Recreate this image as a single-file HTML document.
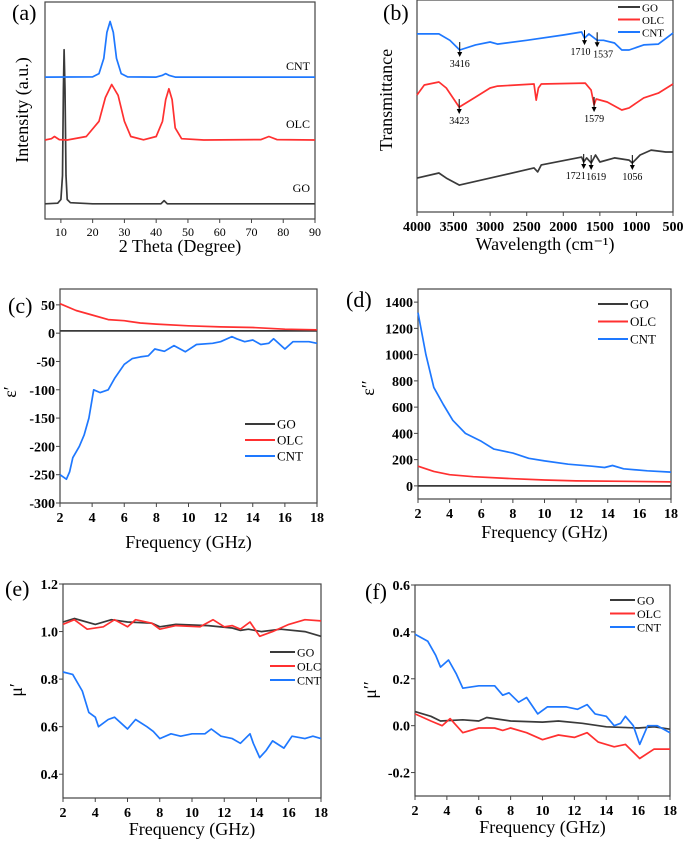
<!DOCTYPE html>
<html><head><meta charset="utf-8"><style>
body{margin:0;background:#fff;width:685px;height:843px;overflow:hidden}
svg{display:block;font-family:"Liberation Serif",serif}
.b{font-weight:bold}
</style></head><body>
<svg id="fig" width="685" height="843" viewBox="0 0 685 843"></svg>
<script>
// ---------- data ----------
const xrdGOx=[5,9,10,10.5,10.8,11,11.3,11.6,12,13,20,41.5,42.5,43.5,90];
const xrdGOy=[7,7.3,9,20,60,78,60,20,9,7.5,7,7,8.5,7,7];
const xrdOLCx=[5,7,8,9.5,12,18,22,24,26,28,30,32,36,40,42,43,44,45,46,48,55,73,75.5,78,90];
const xrdOLCy=[36.4,37,38,36.6,36.4,38,45,56,62,57,45,38,36.5,38,45,55,60,55,42,37,36.4,36.6,38,36.6,36.4];
const xrdCNTx=[5,20,22,23.5,24.5,25.5,26.5,27.5,29,31,40,42,43,44,46,90];
const xrdCNTy=[65.4,65.5,67,74,86,91,86,74,67,65.5,65.4,66.2,67,66.2,65.4,65.4];
const ftirCNTx=[4000,3700,3550,3416,3200,3000,2900,2500,2000,1750,1710,1650,1537,1450,1300,1200,1100,900,700,500];
const ftirCNTy=[84,84,81,76.4,78.8,80.2,79.2,81,83.5,84.9,82,84,81,81,79.7,76.4,76.4,78.8,79.2,84.4];
const ftirOLCx=[4000,3900,3700,3600,3423,3200,3000,2900,2400,2370,2340,2300,1700,1620,1579,1550,1400,1200,1100,900,700,500];
const ftirOLCy=[55.2,59.9,61.3,58.5,49.5,54.2,58.5,59.4,60.4,52.8,58.5,60.4,60.8,57.5,50.5,53.3,51.9,48.1,49.1,53.8,56.1,60.4];
const ftirGOx=[4000,3700,3600,3420,3000,2400,2350,2300,1750,1721,1680,1619,1560,1500,1300,1100,1056,950,800,600,500];
const ftirGOy=[16,18.4,16,12.7,16,20.8,18.9,22.2,25.9,23.6,25.5,23.1,26.9,23.6,25.5,24.5,23.1,26.9,29.2,28.3,28.3];
const ftirPeaks=[["3416",3416,76.4,0],["1710",1710,82,-4],["1537",1537,81,6],["3423",3423,49.5,0],["1579",1579,50.5,0],["1721",1721,23.6,-8],["1619",1619,23.1,5],["1056",1056,23.1,0]];
const epsRx_CNT=[2,2.4,2.6,2.8,3.2,3.5,3.8,4.1,4.5,5,5.4,6,6.5,7,7.5,7.9,8.5,9.1,9.8,10.5,11.5,12,12.7,13,13.5,14,14.5,15,15.3,16,16.5,17.5,18];
const epsR_CNT=[-250,-258,-245,-220,-200,-180,-150,-100,-105,-100,-80,-55,-45,-42,-40,-28,-32,-22,-33,-20,-18,-15,-6,-10,-15,-12,-20,-18,-10,-28,-15,-15,-18];
const epsRx_OLC=[2,3,4,5,6,7,8,10,12,14,16,18];
const epsR_OLC=[52,40,32,24,22,18,16,13,11,10,7,6];
const epsRx_GO=[2,18];
const epsR_GO=[4,4];
const epsIx_CNT=[2,2.5,3,3.6,4.2,5,6,6.8,8,9,10,11.5,13,13.8,14.3,15,16.5,18];
const epsI_CNT=[1320,1000,750,620,500,400,340,280,250,210,190,165,150,140,155,130,115,105];
const epsIx_OLC=[2,3,4,5.5,8,10,12,15,18];
const epsI_OLC=[150,110,85,70,55,45,38,35,30];
const epsIx_GO=[2,18];
const epsI_GO=[0,0];
const muRx_GO=[2,2.7,4,5,6,7.5,8,9,11,12.5,13,13.5,14.3,15.5,17,18];
const muR_GO=[1.04,1.055,1.03,1.05,1.04,1.035,1.02,1.03,1.025,1.015,1.005,1.01,1.0,1.01,1.0,0.98];
const muRx_OLC=[2,2.7,3.5,4.5,5.2,6,6.5,7.5,8,9,10.5,11.3,12,12.5,13,13.6,14.2,15,16,17,18];
const muR_OLC=[1.03,1.05,1.01,1.02,1.05,1.02,1.05,1.035,1.01,1.025,1.02,1.05,1.02,1.025,1.01,1.04,0.98,1.0,1.03,1.05,1.045];
const muRx_CNT=[2,2.6,3.2,3.6,4,4.2,4.8,5.2,6,6.5,7.2,7.6,8,8.7,9.3,10,10.8,11.2,11.8,12.5,13,13.6,13.8,14.2,14.6,15,15.7,16.2,17,17.5,18];
const muR_CNT=[0.83,0.82,0.75,0.66,0.64,0.6,0.63,0.64,0.59,0.63,0.6,0.58,0.55,0.57,0.56,0.57,0.57,0.59,0.56,0.55,0.53,0.57,0.53,0.47,0.5,0.54,0.51,0.56,0.55,0.56,0.55];
const muIx_CNT=[2,2.8,3.3,3.6,4.1,4.6,5,6,7,7.5,7.9,8.5,9,9.7,10.3,11.5,12.2,12.8,13.3,14,14.5,14.9,15.2,15.7,16.1,16.6,17.2,18];
const muI_CNT=[0.39,0.36,0.3,0.25,0.28,0.22,0.16,0.17,0.17,0.13,0.14,0.1,0.12,0.05,0.08,0.08,0.07,0.09,0.05,0.04,0.0,0.01,0.04,0.0,-0.08,0.0,0.0,-0.03];
const muIx_GO=[2,3,3.6,5,6,6.5,8,10,11,12.5,14,16,17,18];
const muI_GO=[0.06,0.04,0.02,0.025,0.02,0.035,0.02,0.015,0.02,0.01,-0.005,-0.01,-0.005,-0.015];
const muIx_OLC=[2,3,3.7,4.2,5,6,7,7.5,8,9,10,11,12,12.8,13.5,14.5,15.2,16.1,17,18];
const muI_OLC=[0.05,0.02,0.0,0.03,-0.03,-0.01,-0.01,-0.02,-0.01,-0.03,-0.06,-0.04,-0.05,-0.03,-0.07,-0.09,-0.08,-0.14,-0.1,-0.1];
const freqTicks=[2,4,6,8,10,12,14,16,18];
// ---------- drawing ----------
const NS="http://www.w3.org/2000/svg";
const svg=document.getElementById('fig');
const C={GO:'#3a3a3a',OLC:'#ff3030',CNT:'#1e78ff'};
function mk(tag,attrs,parent){const e=document.createElementNS(NS,tag);for(const k in attrs)e.setAttribute(k,attrs[k]);(parent||svg).appendChild(e);return e;}
function txt(s,x,y,opt,parent){const t=mk('text',Object.assign({x:x,y:y},opt||{}),parent);t.textContent=s;return t;}
function panel(p){
  const g=mk('g',{});
  
  
  const sx=v=>p.x0+(v-p.xd[0])/(p.xd[1]-p.xd[0])*(p.x1-p.x0);
  const sy=v=>p.y1-(v-p.yd[0])/(p.yd[1]-p.yd[0])*(p.y1-p.y0);
  p.sx=sx;p.sy=sy;p.g=g;
  const box=mk('rect',{x:p.x0,y:p.y0,width:p.x1-p.x0,height:p.y1-p.y0,fill:'none',stroke:'#444','stroke-width':1.2},g);
  
  
  const cls=p.bold?'b':'';
  p.xt.forEach(v=>{mk('line',{x1:sx(v),x2:sx(v),y1:p.y1,y2:p.y1+4,stroke:'#444'},g);
    const t=txt(String(v),sx(v),p.y1+p.fs+5,{'text-anchor':'middle','font-size':p.fs,'class':cls},g);
    });
  (p.yt||[]).forEach(v=>{mk('line',{x1:p.x0-4,x2:p.x0,y1:sy(v),y2:sy(v),stroke:'#444'},g);
    const t=txt(p.yf?p.yf(v):String(v),p.x0-5,sy(v)+5,{'text-anchor':'end','font-size':p.fs,'class':cls},g);
    });
  p.series.forEach(s=>{
    const d=s.x.map((v,i)=>(i?'L':'M')+sx(v).toFixed(1)+','+sy(s.y[i]).toFixed(1)).join('');
    const path=mk('path',{d:d,fill:'none',stroke:C[s.k],'stroke-width':1.7,'stroke-linejoin':'round'},g);
    
    
  });
  const xl=txt(p.xl,(p.x0+p.x1)/2,p.xly,{'text-anchor':'middle','font-size':p.xlfs||18},g);
  
  const yl=txt(p.yl,p.ylx,p.yly,{'text-anchor':'middle','font-size':p.ylfs||18,transform:'rotate(-90 '+p.ylx+' '+p.yly+')'},g);
  
  const pl=txt(p.lab,p.labx,p.laby,{'font-size':22},g);
  
  if(p.leg){['GO','OLC','CNT'].forEach((k,i)=>{const y=p.leg.y+i*p.leg.dy;
    const lg=mk('g',{},g);
    
    
    mk('line',{x1:p.leg.x,x2:p.leg.x+p.leg.w,y1:y,y2:y,stroke:C[k],'stroke-width':2},lg);
    txt(k,p.leg.x+p.leg.w+2,y+4.5,{'font-size':p.leg.fs},lg);});}
  return p;
}
// (a)
const pa=panel({name:'panel-a-xrd',x0:45,x1:315,y0:2,y1:219,xd:[5,90],yd:[0,100],xt:[10,20,30,40,50,60,70,80,90],fs:12,
 series:[{k:'GO',x:xrdGOx,y:xrdGOy},{k:'OLC',x:xrdOLCx,y:xrdOLCy},{k:'CNT',x:xrdCNTx,y:xrdCNTy}],
 xl:'2 Theta (Degree)',xly:252,yl:'Intensity (a.u.)',ylx:28,yly:110,lab:'(a)',labx:12,laby:20});
[['CNT',70],['OLC',128],['GO',192]].forEach(([k,y])=>{const t=txt(k,310,y,{'text-anchor':'end','font-size':12},pa.g);
 });
// (b)
const pb=panel({name:'panel-b-ftir',x0:417,x1:673,y0:0,y1:212,xd:[4000,500],yd:[0,100],xt:[4000,3500,3000,2500,2000,1500,1000,500],fs:14,bold:true,
 series:[{k:'GO',x:ftirGOx,y:ftirGOy},{k:'OLC',x:ftirOLCx,y:ftirOLCy},{k:'CNT',x:ftirCNTx,y:ftirCNTy}],
 xl:'Wavelength (cm\u207B\u00B9)',xly:250,yl:'Transmittance',ylx:392,yly:100,lab:'(b)',labx:383,laby:20,
 leg:{x:618,w:22,y:7,dy:12.5,fs:11}});
ftirPeaks.forEach(([s,x,y,off])=>{const X=pb.sx(x),Y=pb.sy(y);
 mk('line',{x1:X,x2:X,y1:Y-8,y2:Y+4,stroke:'#000','stroke-width':1},pb.g);
 mk('path',{d:`M${X-2.5},${Y+2}L${X+2.5},${Y+2}L${X},${Y+7}Z`,fill:'#000'},pb.g);
 const t=txt(s,X+off,Y+17,{'text-anchor':'middle','font-size':10},pb.g);
 });
// (c)
panel({name:'panel-c-eps-real',x0:60,x1:317,y0:289,y1:503,xd:[2,18],yd:[-300,78],xt:freqTicks,yt:[-300,-250,-200,-150,-100,-50,0,50],fs:14,bold:true,
 series:[{k:'GO',x:epsRx_GO,y:epsR_GO},{k:'OLC',x:epsRx_OLC,y:epsR_OLC},{k:'CNT',x:epsRx_CNT,y:epsR_CNT}],
 xl:'Frequency (GHz)',xly:548,yl:'\u03B5\u2032',ylx:16,yly:392,lab:'(c)',labx:8,laby:313,
 leg:{x:245,w:30,y:424,dy:16,fs:13}});
// (d)
panel({name:'panel-d-eps-imag',x0:418,x1:671,y0:289,y1:499,xd:[2,18],yd:[-100,1500],xt:freqTicks,yt:[0,200,400,600,800,1000,1200,1400],fs:14,bold:true,
 series:[{k:'GO',x:epsIx_GO,y:epsI_GO},{k:'OLC',x:epsIx_OLC,y:epsI_OLC},{k:'CNT',x:epsIx_CNT,y:epsI_CNT}],
 xl:'Frequency (GHz)',xly:538,yl:'\u03B5\u2032\u2032',ylx:374,yly:388,lab:'(d)',labx:346,laby:307,
 leg:{x:598,w:30,y:304,dy:17.5,fs:13}});
// (e)
panel({name:'panel-e-mu-real',x0:63,x1:321,y0:584,y1:798,xd:[2,18],yd:[0.3,1.2],xt:freqTicks,yt:[0.4,0.6,0.8,1.0,1.2],yf:v=>v.toFixed(1),fs:14,bold:true,
 series:[{k:'GO',x:muRx_GO,y:muR_GO},{k:'OLC',x:muRx_OLC,y:muR_OLC},{k:'CNT',x:muRx_CNT,y:muR_CNT}],
 xl:'Frequency (GHz)',xly:835,yl:'\u03BC\u2032',ylx:22,yly:690,lab:'(e)',labx:5,laby:596,
 leg:{x:270,w:25,y:652,dy:14,fs:12}});
// (f)
panel({name:'panel-f-mu-imag',x0:415,x1:670,y0:585,y1:796,xd:[2,18],yd:[-0.3,0.6],xt:freqTicks,yt:[-0.2,0.0,0.2,0.4,0.6],yf:v=>v.toFixed(1),fs:14,bold:true,
 series:[{k:'GO',x:muIx_GO,y:muI_GO},{k:'OLC',x:muIx_OLC,y:muI_OLC},{k:'CNT',x:muIx_CNT,y:muI_CNT}],
 xl:'Frequency (GHz)',xly:833,yl:'\u03BC\u2032\u2032',ylx:376,yly:690,lab:'(f)',labx:365,laby:599,
 leg:{x:610,w:25,y:600,dy:13.5,fs:12}});
</script>
</body></html>
